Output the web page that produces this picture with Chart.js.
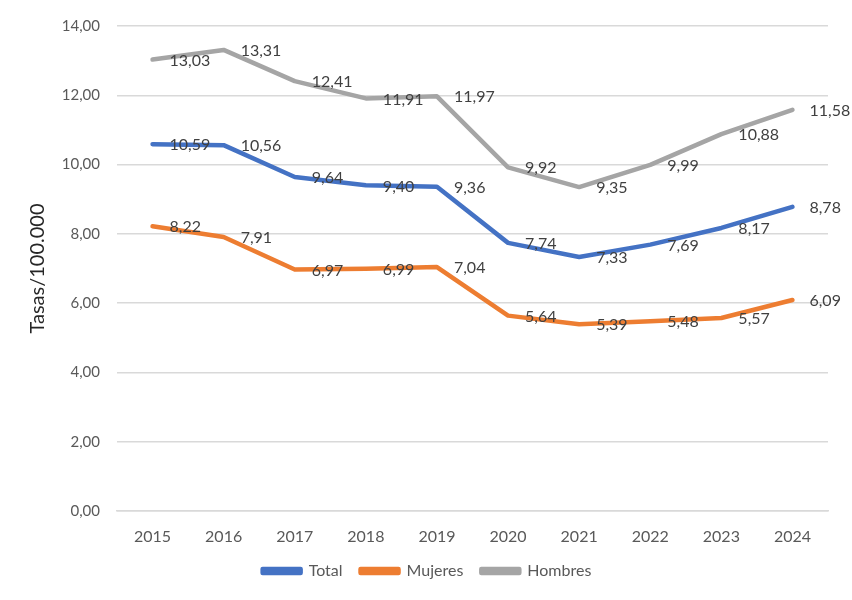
<!DOCTYPE html>
<html>
<head>
<meta charset="utf-8">
<script src="https://cdn.jsdelivr.net/npm/chart.js@4.4.1/dist/chart.umd.min.js"></script>
<style>
  html, body { margin: 0; padding: 0; background: #fff; }
  #wrap { width: 852px; height: 600px; }
</style>
</head>
<body>
<div id="wrap"><canvas id="rateChart"></canvas></div>
<script>
// Values
const years = ["2015", "2016", "2017", "2018", "2019", "2020", "2021", "2022", "2023", "2024"];
const total = [10.59, 10.56, 9.64, 9.40, 9.36, 7.74, 7.33, 7.69, 8.17, 8.78];
const mujeres = [8.22, 7.91, 6.97, 6.99, 7.04, 5.64, 5.39, 5.48, 5.57, 6.09];
const hombres = [13.03, 13.31, 12.41, 11.91, 11.97, 9.92, 9.35, 9.99, 10.88, 11.58];

const FONT = "Lato, 'Liberation Sans', sans-serif";

function fmt(v) {
    return v.toFixed(2).replace(".", ",");
}

// Excel-style data labels placed to the right of each point
const rightLabels = {
    id: "rightLabels",
    afterDatasetsDraw(chart) {
        let ctx = chart.ctx;
        ctx.save();
        ctx.font = "16px " + FONT;
        ctx.fillStyle = "#404040";
        ctx.textAlign = "left";
        ctx.textBaseline = "middle";
        chart.data.datasets.forEach((ds, i) => {
            let meta = chart.getDatasetMeta(i);
            meta.data.forEach((pt, j) => {
                ctx.fillText(fmt(ds.data[j]), pt.x + 17, pt.y + 1);
            });
        });
        ctx.restore();
    }
};

let ctx = document.getElementById("rateChart").getContext("2d");

new Chart(ctx, {
    type: "line",
    data: {
        labels: years,
        datasets: [
            { label: "Total", data: total, borderColor: "#4472C4", backgroundColor: "#4472C4" },
            { label: "Mujeres", data: mujeres, borderColor: "#ED7D31", backgroundColor: "#ED7D31" },
            { label: "Hombres", data: hombres, borderColor: "#A5A5A5", backgroundColor: "#A5A5A5" }
        ]
    },
    options: {
        responsive: true,
        maintainAspectRatio: false,
        animation: false,
        layout: { padding: { left: 26, right: 24, top: 25, bottom: 11 } },
        elements: {
            line: { borderWidth: 4.5, tension: 0, borderCapStyle: "round", borderJoinStyle: "round" },
            point: { radius: 0, hoverRadius: 0 }
        },
        plugins: {
            tooltip: { enabled: false },
            legend: {
                position: "bottom",
                labels: {
                    boxWidth: 38,
                    boxHeight: 4,
                    padding: 18,
                    color: "#595959",
                    font: { family: FONT, size: 16 }
                }
            }
        },
        scales: {
            x: {
                offset: true,
                grid: { display: false },
                border: { display: true, color: "#d9d9d9", width: 1.5 },
                ticks: { color: "#595959", font: { family: FONT, size: 16 }, padding: 8 },
                afterFit: scale => { scale.height = 34; }
            },
            y: {
                min: 0,
                max: 14,
                ticks: {
                    stepSize: 2,
                    color: "#595959",
                    padding: 17,
                    font: { family: FONT, size: 15 },
                    callback: v => fmt(v)
                },
                grid: { color: "#d9d9d9", lineWidth: 1.5, drawTicks: false },
                border: { display: false },
                title: {
                    display: true,
                    text: "Tasas/100.000",
                    color: "#262626",
                    font: { family: FONT, size: 20 },
                    padding: { top: 0, bottom: 6 }
                },
                afterFit: scale => { scale.width = 91; }
            }
        }
    },
    plugins: [rightLabels]
});
</script>
</body>
</html>
